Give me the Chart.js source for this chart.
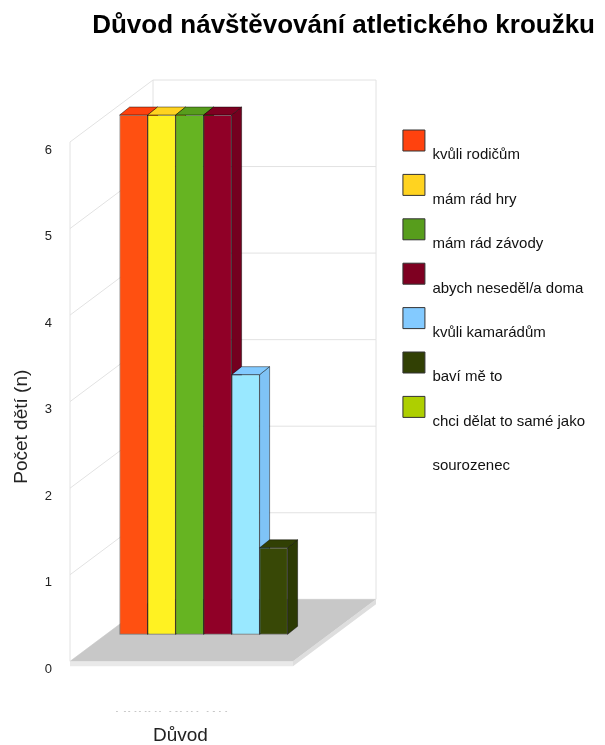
<!DOCTYPE html>
<html>
<head>
<meta charset="utf-8">
<script src="https://cdn.jsdelivr.net/npm/chart.js@4/dist/chart.umd.min.js"></script>
<style>
  html, body { margin: 0; padding: 0; background: #ffffff; }
  #wrap { width: 605px; height: 745px; }
</style>
</head>
<body>
<div id="wrap"><canvas id="c" width="605" height="745"></canvas></div>
<script>
// ---- data ----
const categories = [
  'kvůli rodičům',
  'mám rád hry',
  'mám rád závody',
  'abych neseděl/a doma',
  'kvůli kamarádům',
  'baví mě to',
  'chci dělat to samé jako sourozenec'
];
const counts = [6, 6, 6, 6, 3, 1, 0];
const xLabels = ['Počet dětí (n)'];
const yTicks = [0, 1, 2, 3, 4, 5, 6];

// ---- styles ----
const seriesColors = ['#ff420e', '#ffd320', '#579d1c', '#7e0021', '#83caff', '#314004', '#aecf00'];
const faceColors   = ['#ff5011', '#fff222', '#66b422', '#900027', '#99e8ff', '#384806', '#c2e600'];
const sideColors   = ['#e0390b', '#e3b81a', '#4b8a17', '#74001f', '#7fc3f6', '#2c3a04', '#98b800'];

// 3D projection constants (pixels)
const DEPTH = { x: 83, y: -62 };     // front edge of floor -> back wall
const FLOOR_W = 223;                 // floor / back wall width
const BAR_DEPTH = 0.435;             // bars stand this far back on the floor
const BAR_THICK = { x: 10, y: -8 };  // bar depth
const FLOOR_H = 5;                   // floor slab thickness

function wrapLabel(text, max) {
  const words = text.split(' ');
  const lines = [];
  let cur = '';
  words.forEach(w => {
    const t = cur ? cur + ' ' + w : w;
    if (t.length > max && cur) { lines.push(cur); cur = w; } else { cur = t; }
  });
  if (cur) lines.push(cur);
  const out = [''];
  lines.forEach((l, i) => { if (i > 0) out.push('', ''); out.push(l); });
  return out;
}

function poly(ctx, pts, fill, stroke) {
  ctx.beginPath();
  ctx.moveTo(pts[0][0], pts[0][1]);
  for (let i = 1; i < pts.length; i++) ctx.lineTo(pts[i][0], pts[i][1]);
  ctx.closePath();
  if (fill) { ctx.fillStyle = fill; ctx.fill(); }
  if (stroke) { ctx.strokeStyle = stroke; ctx.lineWidth = 1; ctx.stroke(); }
}

const scene3d = {
  id: 'scene3d',
  beforeDatasetsDraw(chart) {
    const { ctx, chartArea: a, scales: { y } } = chart;
    const BL = a.left;
    const FL = BL - DEPTH.x;
    const W = FLOOR_W;
    const yf = v => y.getPixelForValue(v);
    const top = yTicks[yTicks.length - 1];
    const bottom = yTicks[0];

    ctx.save();
    // the category label is cut off in the original picture
    ctx.fillStyle = '#ffffff';
    ctx.fillRect(FL + 20, a.bottom, W - 20, 13);

    // walls
    ctx.strokeStyle = '#e2e2e2';
    ctx.lineWidth = 1;
    yTicks.forEach(v => {
      const p = yf(v);
      ctx.beginPath();
      ctx.moveTo(FL, p);
      ctx.lineTo(BL, p + DEPTH.y);
      ctx.lineTo(BL + W, p + DEPTH.y);
      ctx.stroke();
    });
    ctx.beginPath();
    ctx.moveTo(FL, yf(top)); ctx.lineTo(FL, yf(bottom));
    ctx.moveTo(BL, yf(top) + DEPTH.y); ctx.lineTo(BL, yf(bottom) + DEPTH.y);
    ctx.moveTo(BL + W, yf(top) + DEPTH.y); ctx.lineTo(BL + W, yf(bottom) + DEPTH.y);
    ctx.stroke();

    // floor slab
    const f0 = yf(bottom);
    poly(ctx, [[FL, f0], [FL + W, f0], [FL + W, f0 + FLOOR_H], [FL, f0 + FLOOR_H]], '#e9e9e9');
    poly(ctx, [[FL + W, f0], [BL + W, f0 + DEPTH.y], [BL + W, f0 + DEPTH.y + FLOOR_H], [FL + W, f0 + FLOOR_H]], '#dedede');
    poly(ctx, [[FL, f0], [FL + W, f0], [BL + W, f0 + DEPTH.y], [BL, f0 + DEPTH.y]], '#c8c8c8');
    ctx.restore();

    // bars stand part-way back on the floor
    ctx.save();
    const cx = (a.left + a.right) / 2;
    ctx.translate(FL + W / 2 + BAR_DEPTH * DEPTH.x - cx, BAR_DEPTH * DEPTH.y);
    chart.data.datasets.forEach((ds, i) => {
      const meta = chart.getDatasetMeta(i);
      meta.data.forEach((bar, j) => {
        if (!ds.data[j]) return;
        const { x, y: t, base, width } = bar.getProps(['x', 'y', 'base', 'width'], true);
        const l = x - width / 2, r = x + width / 2;
        const dx = BAR_THICK.x, dy = BAR_THICK.y;
        poly(ctx, [[r, t], [r + dx, t + dy], [r + dx, base + dy], [r, base]], sideColors[i], 'rgba(0,0,0,0.45)');
        poly(ctx, [[l, t], [r, t], [r + dx, t + dy], [l + dx, t + dy]], seriesColors[i], 'rgba(0,0,0,0.45)');
      });
    });
  },
  afterDatasetsDraw(chart) {
    chart.ctx.restore();
  }
};

Chart.defaults.font.family = "'Liberation Sans', Arial, sans-serif";
Chart.defaults.color = '#111';

new Chart(document.getElementById('c'), {
  type: 'bar',
  data: {
    labels: xLabels,
    datasets: categories.map((c, i) => ({
      label: c,
      data: [counts[i]],
      backgroundColor: faceColors[i],
      borderColor: 'rgba(0,0,0,0.4)',
      borderWidth: 1,
      borderSkipped: false,
      barThickness: 28,
      clip: false
    }))
  },
  options: {
    responsive: false,
    animation: false,
    events: [],
    layout: { padding: { right: 10 } },
    scales: {
      x: {
        grid: { display: false, drawTicks: false },
        border: { display: false },
        ticks: { padding: -7.5, labelOffset: -99, font: { size: 19, lineHeight: 1 }, color: '#222' },
        title: {
          display: true, text: 'Důvod', align: 'start', color: '#222',
          font: { size: 19, lineHeight: 1 }, padding: { top: 10.5, bottom: 0 }
        }
      },
      y: {
        min: -0.58,
        max: 6,
        afterBuildTicks: s => { s.ticks = yTicks.map(v => ({ value: v })); },
        afterFit: s => { s.width = 153; s.paddingTop = 0; s.paddingBottom = 0; },
        grid: { display: false, drawTicks: false },
        border: { display: false },
        ticks: { padding: 101, labelOffset: 8, font: { size: 13 }, color: '#222' },
        title: {
          display: true, text: 'Počet dětí (n)', color: '#222',
          font: { size: 19 }, padding: { top: 10.6, bottom: 10 }
        }
      }
    },
    plugins: {
      title: {
        display: true,
        text: 'Důvod návštěvování atletického kroužku',
        align: 'end',
        color: '#000',
        font: { size: 26, weight: 'bold', lineHeight: 1.2 },
        padding: { top: 10.4, bottom: 100.4 }
      },
      legend: {
        position: 'right',
        align: 'start',
        maxWidth: 400,
        title: { display: true, text: '', font: { size: 12, lineHeight: 1 }, padding: { top: 103, bottom: 0 } },
        labels: {
          boxWidth: 22,
          boxHeight: 21,
          padding: 15,
          color: '#111',
          font: { size: 15, lineHeight: 0.98 },
          generateLabels: chart => chart.data.datasets.map((ds, i) => ({
            text: wrapLabel(ds.label, 24),
            fillStyle: seriesColors[i],
            strokeStyle: '#333333',
            lineWidth: 1,
            hidden: false,
            datasetIndex: i
          }))
        }
      },
      tooltip: { enabled: false }
    }
  },
  plugins: [scene3d]
});
</script>
</body>
</html>
